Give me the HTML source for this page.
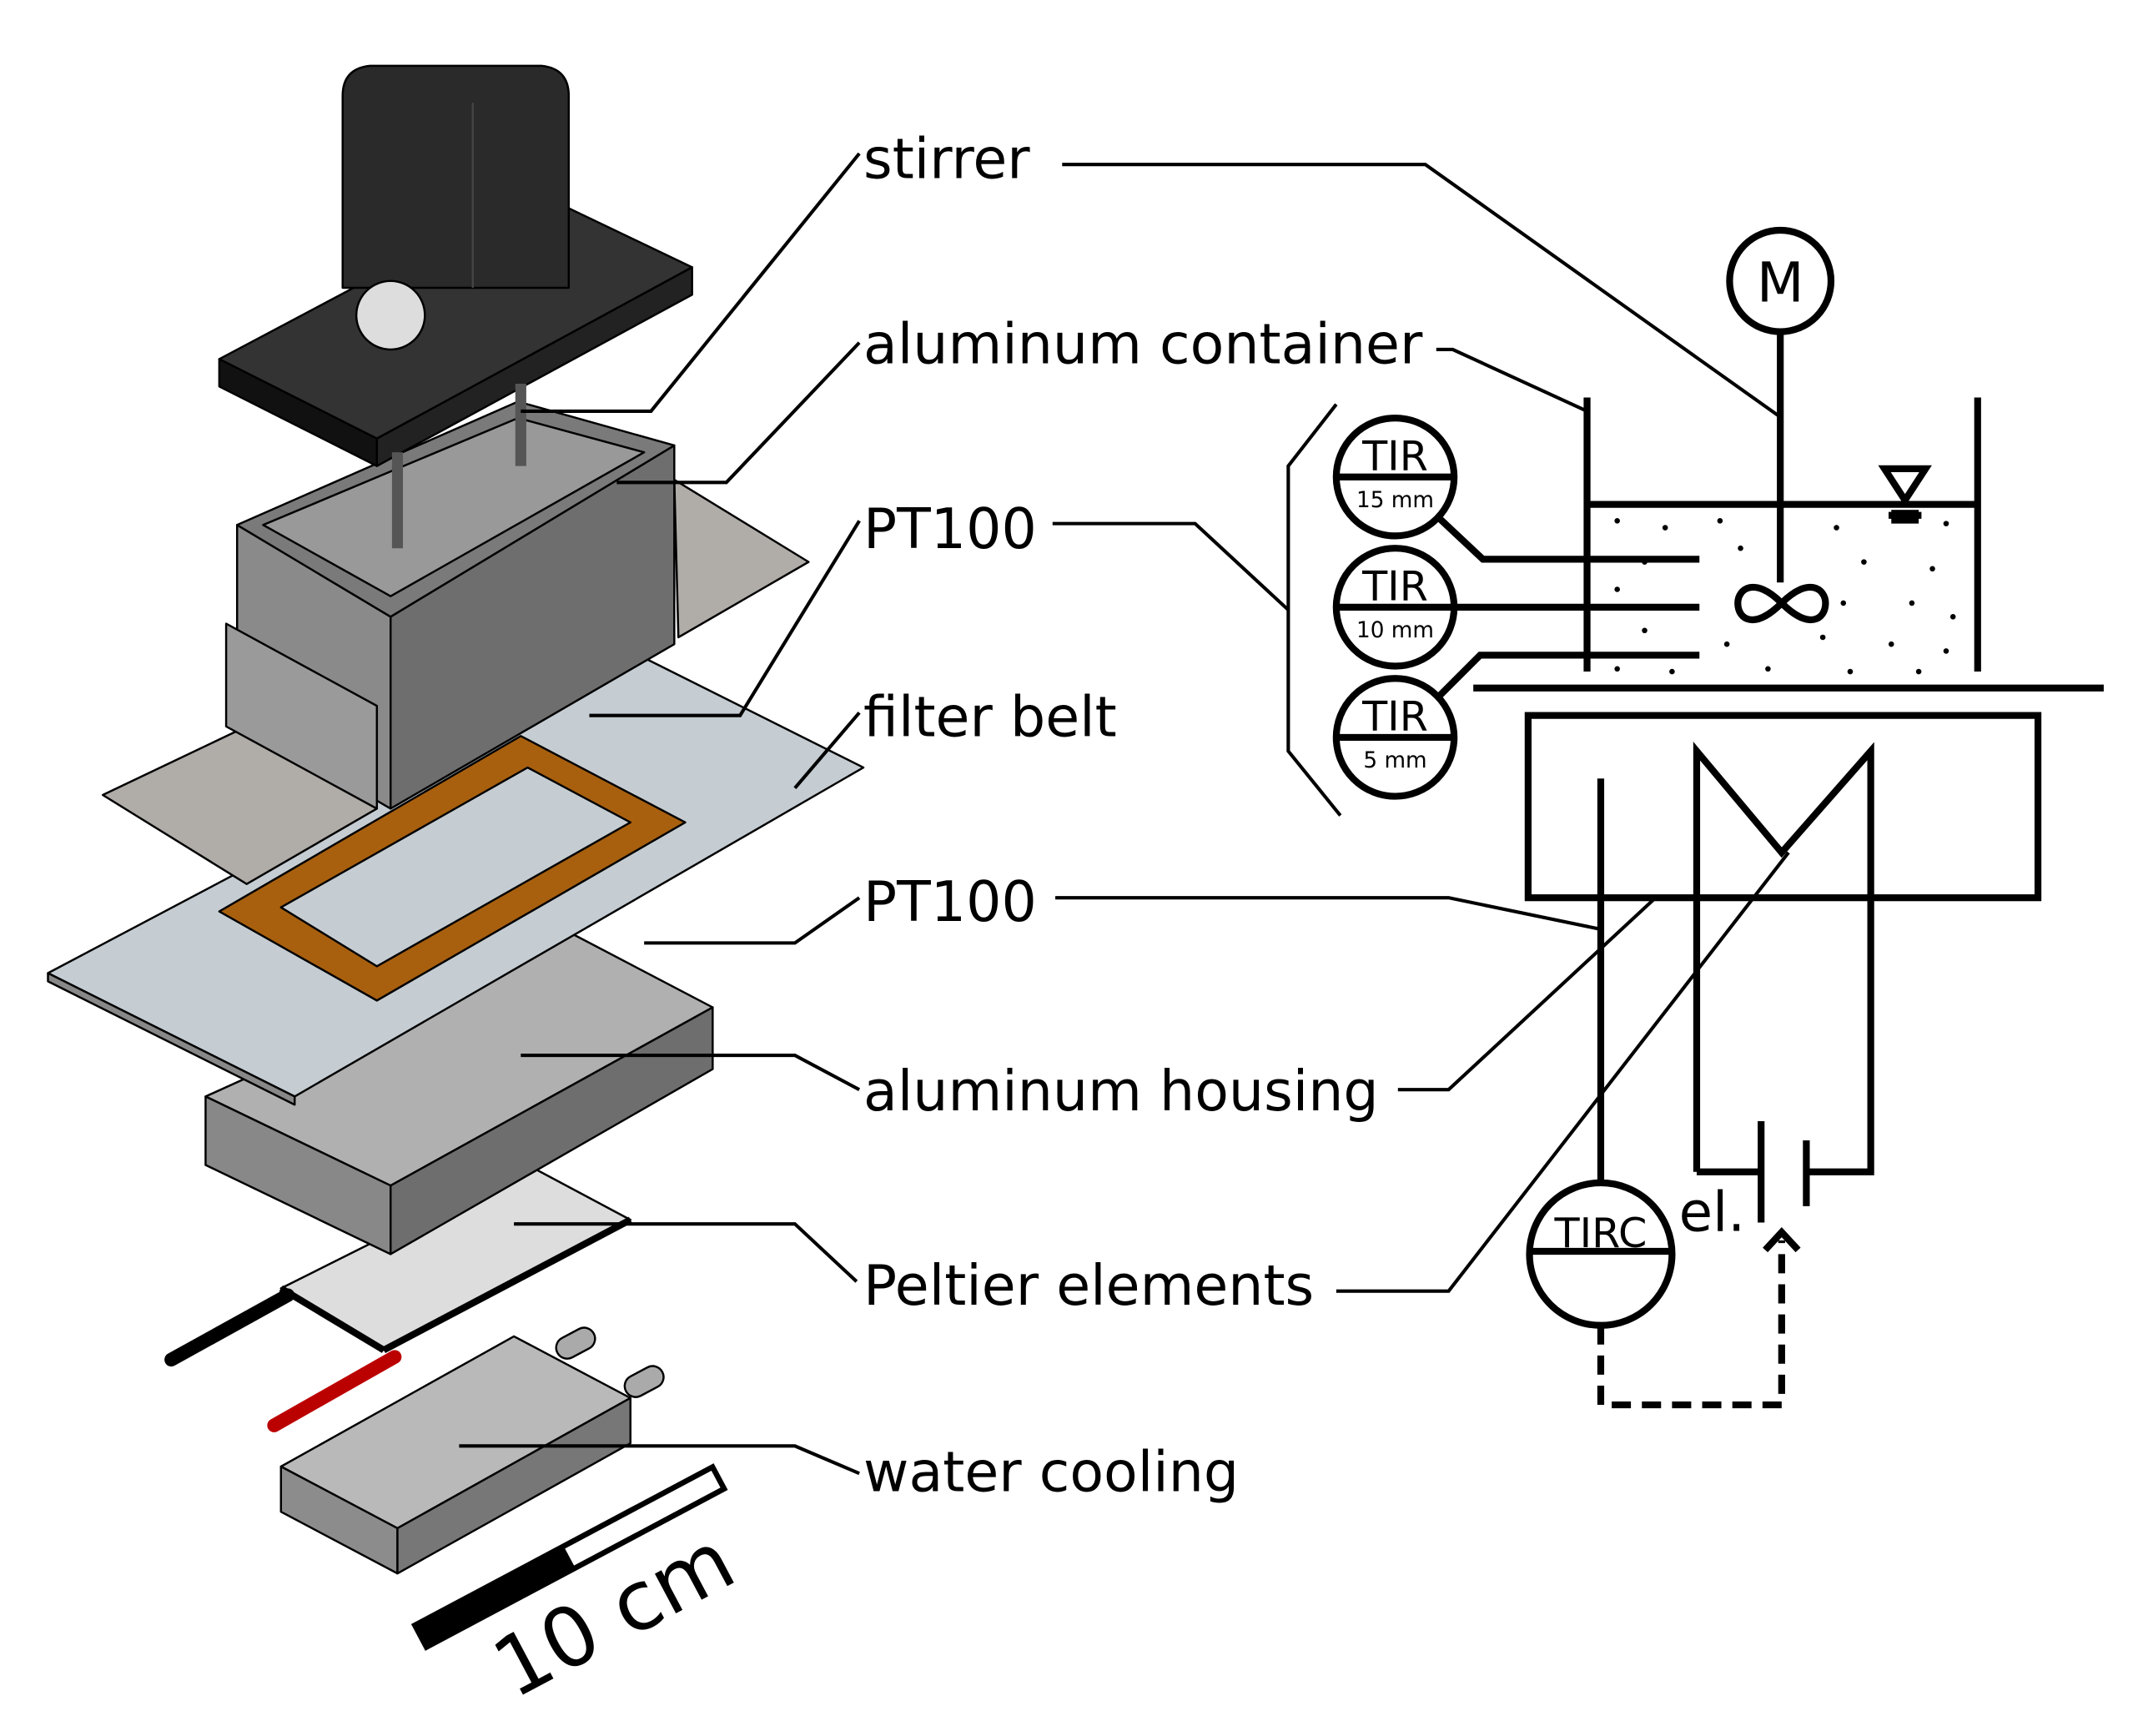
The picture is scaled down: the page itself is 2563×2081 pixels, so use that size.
<!DOCTYPE html>
<html><head><meta charset="utf-8"><style>
html,body{margin:0;padding:0;background:#fff}
svg{display:block}
text{font-family:"DejaVu Sans","Liberation Sans",sans-serif;fill:#000}
</style></head><body>
<svg width="2563" height="2081" viewBox="0 0 1560 1266.6" preserveAspectRatio="none" xmlns="http://www.w3.org/2000/svg">
<rect width="1560" height="1267" fill="#fff"/>
<g stroke="#000" stroke-width="1.5" stroke-linejoin="round">
<polygon points="205,1070 375,975 460,1020 290,1115" fill="#b9b9b9"/>
<polygon points="205,1070 290,1115 290,1148 205,1103" fill="#8c8c8c"/>
<polygon points="290,1115 460,1020 460,1053 290,1148" fill="#777"/>
<rect x="455" y="1000" width="30" height="16" rx="8" fill="#aaa" transform="rotate(-28 470 1008)"/>
<rect x="405" y="972" width="30" height="16" rx="8" fill="#aaa" transform="rotate(-28 420 980)"/>
<polygon points="205,940 385,850 460,890 280,985" fill="#ddd"/>
<line x1="205" y1="940" x2="280" y2="985" stroke-width="5"/>
<line x1="280" y1="985" x2="460" y2="890" stroke-width="5"/>
<line x1="125" y1="992" x2="210" y2="945" stroke-width="10" stroke-linecap="round"/>
<line x1="200" y1="1040" x2="288" y2="990" stroke="#b00" stroke-width="10" stroke-linecap="round"/>
<polygon points="150,800 415,680 520,735 285,865" fill="#b0b0b0"/>
<polygon points="150,800 285,865 285,915 150,850" fill="#888"/>
<polygon points="285,865 520,735 520,780 285,915" fill="#6e6e6e"/>
<polygon points="35,710 470,480 630,560 215,800" fill="#c5cdd3"/>
<polygon points="35,710 215,800 215,806 35,716" fill="#888"/>
<polygon points="160,665 380,537 500,600 275,730" fill="#a8600f"/>
<polygon points="205,662 385,560 460,600 275,705" fill="#c5cdd3"/>
<polygon points="75,580 180,530 275,590 180,645" fill="#b0aca8"/>
<polygon points="492,350 590,410 495,465" fill="#b0aca8"/>
<polygon points="173,383 285,450 285,590 173,525" fill="#8a8a8a"/>
<polygon points="285,450 492,325 492,470 285,590" fill="#6e6e6e"/>
<polygon points="173,383 378,293 492,325 285,450" fill="#7a7a7a"/>
<polygon points="192,383 378,305 470,330 285,435" fill="#999"/>
<polygon points="165,455 275,515 275,590 165,530" fill="#9a9a9a"/>
<polygon points="160,262 390,140 505,195 275,320" fill="#333"/>
<polygon points="160,262 275,320 275,340 160,282" fill="#111"/>
<polygon points="275,320 505,195 505,215 275,340" fill="#222"/>
<line x1="290" y1="330" x2="290" y2="400" stroke="#555" stroke-width="8"/>
<line x1="380" y1="280" x2="380" y2="340" stroke="#555" stroke-width="8"/>
<path d="M250,70 Q250,50 270,48 L395,48 Q415,50 415,70 L415,210 L250,210 Z" fill="#2a2a2a"/>
<line x1="345" y1="75" x2="345" y2="210" stroke="#444"/>
<circle cx="285" cy="230" r="25" fill="#ddd"/>
</g>
<g transform="translate(300,1185) rotate(-28)">
<rect x="0" y="0" width="250" height="22" fill="#000"/>
<rect x="125" y="4" width="121" height="14" fill="#fff"/>
</g>
<text x="0" y="0" font-size="60" transform="translate(375,1240) rotate(-28)">10 cm</text>
<g font-size="40.5">
<text x="630" y="130">stirrer</text>
<text x="630" y="265">aluminum container</text>
<text x="630" y="400">PT100</text>
<text x="630" y="537">filter belt</text>
<text x="630" y="672">PT100</text>
<text x="630" y="810">aluminum housing</text>
<text x="630" y="952">Peltier elements</text>
<text x="630" y="1088">water cooling</text>
</g>
<g fill="none" stroke="#000" stroke-width="2.5">
<polyline points="627,112 475,300 380,300"/>
<polyline points="627,250 530,352 450,352"/>
<polyline points="627,380 540,522 430,522"/>
<polyline points="627,520 580,575"/>
<polyline points="627,655 580,688 470,688"/>
<polyline points="627,795 580,770 380,770"/>
<polyline points="625,935 580,893 375,893"/>
<polyline points="627,1075 580,1055 335,1055"/>
<polyline points="775,120 1040,120 1300,305"/>
<polyline points="1048,255 1060,255 1158,300"/>
<polyline points="768,382 872,382 940,445"/>
<polyline points="770,655 1057,655 1168,678"/>
<polyline points="1020,795 1057,795 1208,655"/>
<polyline points="975,942 1057,942 1305,622"/>
</g>
<g fill="none" stroke="#000" stroke-width="5">
<circle cx="1299" cy="205" r="37"/>
<line x1="1299" y1="242" x2="1299" y2="425"/>
<line x1="1158" y1="290" x2="1158" y2="490"/>
<line x1="1443" y1="290" x2="1443" y2="490"/>
<line x1="1158" y1="368" x2="1443" y2="368"/>
<line x1="1075" y1="502" x2="1535" y2="502"/>
<path d="M1300,440 C1280,420 1268,430 1268,440 C1268,452 1280,460 1300,440 C1320,420 1332,430 1332,440 C1332,452 1320,460 1300,440 Z"/>
<polygon points="1375,342 1405,342 1390,365"/>
<line x1="1378" y1="376" x2="1402" y2="376"/>
<circle cx="1018" cy="348" r="43"/><line x1="975" y1="348" x2="1061" y2="348"/>
<circle cx="1018" cy="443" r="43"/><line x1="975" y1="443" x2="1061" y2="443"/>
<circle cx="1018" cy="538" r="43"/><line x1="975" y1="538" x2="1061" y2="538"/>
<polyline points="1050,378 1082,408 1240,408"/>
<line x1="1061" y1="443" x2="1240" y2="443"/>
<polyline points="1050,508 1080,478 1240,478"/>
<rect x="1115" y="522" width="372" height="133"/>
<line x1="1168" y1="568" x2="1168" y2="863"/>
<polyline points="1238,855 1238,548 1300,622 1365,548 1365,855 1318,855"/>
<line x1="1238" y1="855" x2="1285" y2="855"/>
<line x1="1285" y1="818" x2="1285" y2="892"/>
<line x1="1318" y1="832" x2="1318" y2="880"/>
<circle cx="1168" cy="915" r="52"/><line x1="1116" y1="913" x2="1220" y2="913"/>
<polyline points="1168,967 1168,1025 1300,1025 1300,905" stroke-dasharray="14,8"/>
<polyline points="1288,912 1300,899 1312,912"/>
</g>
<polyline points="975,295 940,340 940,548 978,595" fill="none" stroke="#000" stroke-width="2.5"/>
<rect x="1380" y="372" width="20" height="10" fill="#000"/>
<g fill="#000">
<circle cx="1180" cy="380" r="2"/><circle cx="1215" cy="385" r="2"/><circle cx="1255" cy="380" r="2"/><circle cx="1340" cy="385" r="2"/><circle cx="1420" cy="382" r="2"/>
<circle cx="1200" cy="410" r="2"/><circle cx="1270" cy="400" r="2"/><circle cx="1360" cy="410" r="2"/><circle cx="1410" cy="415" r="2"/>
<circle cx="1180" cy="430" r="2"/><circle cx="1345" cy="440" r="2"/><circle cx="1395" cy="440" r="2"/><circle cx="1425" cy="450" r="2"/>
<circle cx="1200" cy="460" r="2"/><circle cx="1260" cy="470" r="2"/><circle cx="1330" cy="465" r="2"/><circle cx="1380" cy="470" r="2"/><circle cx="1420" cy="475" r="2"/>
<circle cx="1180" cy="488" r="2"/><circle cx="1220" cy="490" r="2"/><circle cx="1290" cy="488" r="2"/><circle cx="1350" cy="490" r="2"/><circle cx="1400" cy="490" r="2"/>
</g>
<g font-size="30" text-anchor="middle">
<text x="1018" y="343">TIR</text><text x="1018" y="438">TIR</text><text x="1018" y="533">TIR</text>
<text x="1168" y="910">TIRC</text>
</g>
<g font-size="16" text-anchor="middle">
<text x="1018" y="370">15 mm</text><text x="1018" y="465">10 mm</text><text x="1018" y="560">5 mm</text>
</g>
<text x="1299" y="220" font-size="40" text-anchor="middle">M</text>
<text x="1225" y="898" font-size="40">el.</text>
</svg>
</body></html>
